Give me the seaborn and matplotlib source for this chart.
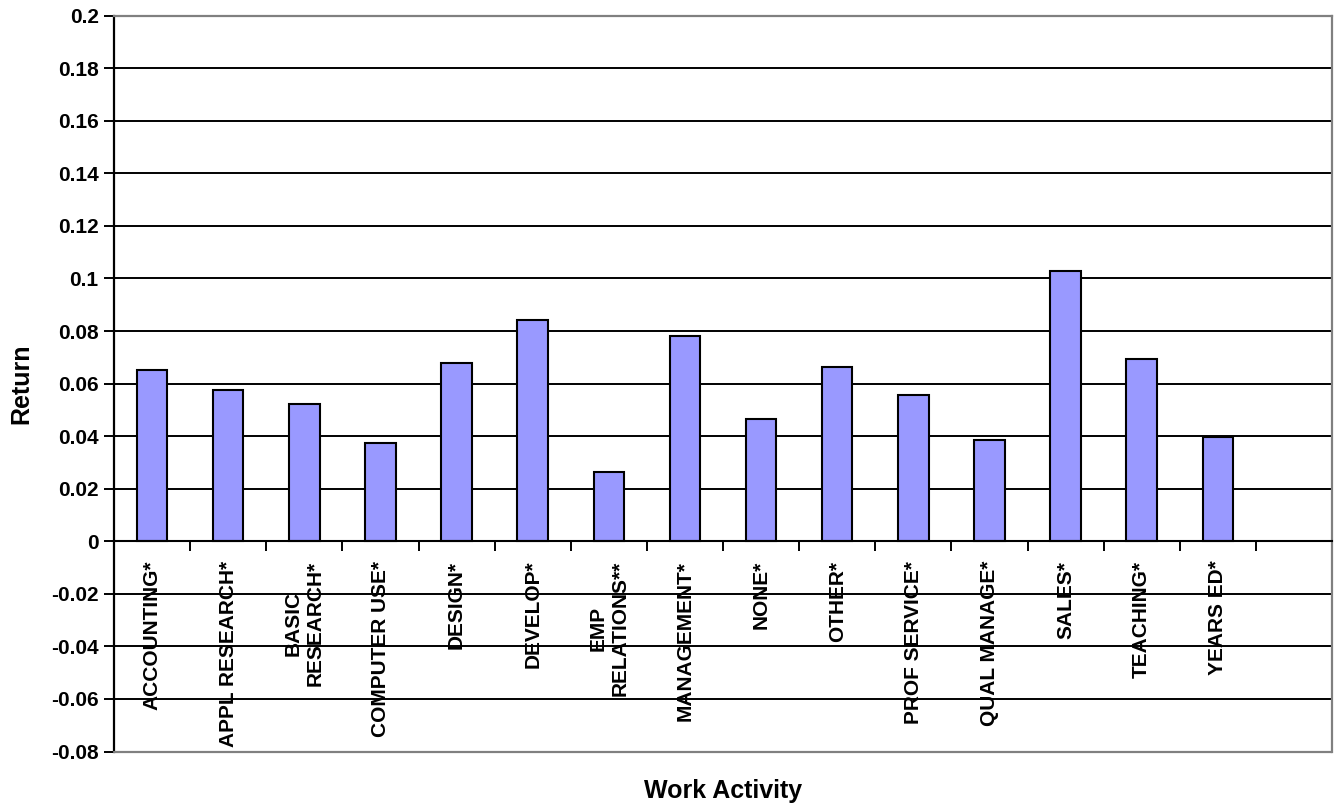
import matplotlib
matplotlib.use("Agg")
import matplotlib.pyplot as plt
import numpy as np
import pandas as pd
import seaborn as sns

# Estimated returns by work activity
activities = ["ACCOUNTING*", "APPL RESEARCH*", "BASIC\nRESEARCH*", "COMPUTER USE*",
              "DESIGN*", "DEVELOP*", "EMP\nRELATIONS**", "MANAGEMENT*", "NONE*",
              "OTHER*", "PROF SERVICE*", "QUAL MANAGE*", "SALES*", "TEACHING*",
              "YEARS ED*"]
returns = [0.065, 0.0574, 0.0522, 0.0375, 0.0679, 0.0842, 0.0262, 0.0782, 0.0465,
           0.0664, 0.0558, 0.0385, 0.1029, 0.0692, 0.0396]
y_ticks = [-0.08, -0.06, -0.04, -0.02, 0, 0.02, 0.04, 0.06, 0.08, 0.10, 0.12,
           0.14, 0.16, 0.18, 0.20]
y_tick_labels = ["-0.08", "-0.06", "-0.04", "-0.02", "0", "0.02", "0.04", "0.06",
                 "0.08", "0.1", "0.12", "0.14", "0.16", "0.18", "0.2"]
n_slots = 16  # one empty slot after the last category

sns.set_theme(style="white")
plt.rcParams["font.family"] = ["Liberation Sans", "DejaVu Sans"]
plt.rcParams["font.weight"] = "bold"
for key in ("text.color", "axes.labelcolor", "xtick.color", "ytick.color",
            "xtick.labelcolor", "ytick.labelcolor"):
    plt.rcParams[key] = "black"

df = pd.DataFrame({"activity": activities, "ret": returns})

fig = plt.figure(figsize=(13.38, 8.10), dpi=100)
ax = fig.add_axes([114 / 1338, 1 - 751.5 / 810, (1332 - 114) / 1338, (751.5 - 15.7) / 810])

ax.set_ylim(y_ticks[0], y_ticks[-1])
ax.set_yticks(y_ticks)
ax.yaxis.grid(True, color="black", linewidth=1.4)
ax.set_axisbelow(True)

sns.barplot(data=df, x="activity", y="ret", order=activities, color="#9999FF",
            saturation=1, width=0.4, edgecolor="black", linewidth=1.5, ax=ax,
            zorder=3)
ax.set_xlim(-0.5, n_slots - 0.5)

# y axis
ax.set_yticklabels(y_tick_labels, fontsize=15, fontweight="bold", color="black")
ax.tick_params(axis="y", direction="out", length=7, width=1.4, color="black",
               left=True, pad=4)

# category axis drawn through zero
ax.spines["bottom"].set_position(("data", 0))
ax.spines["bottom"].set_color("black")
ax.spines["bottom"].set_linewidth(1.5)
ax.spines["bottom"].set_zorder(4)
ax.spines["left"].set_color("black")
ax.spines["left"].set_linewidth(1.6)
for side in ("top", "right"):
    ax.spines[side].set_color("#808080")
    ax.spines[side].set_linewidth(1.6)
ax.axhline(y_ticks[0], color="#808080", linewidth=1.6, clip_on=False, zorder=4)

ax.set_xticks(np.arange(len(activities)))
ax.set_xticklabels(activities, rotation=90, fontsize=15, fontweight="bold",
                   va="top", ha="center", color="black")
for lab in ax.get_xticklabels():
    lab.set_multialignment("center")
ax.set_xticks(np.arange(n_slots + 1) - 0.5, minor=True)
ax.tick_params(axis="x", which="major", length=0, pad=14)
ax.tick_params(axis="x", which="minor", direction="out", length=7, width=1.4,
               color="black", bottom=True)

ax.set_xlabel("Work Activity", fontsize=18, fontweight="bold", color="black")
ax.xaxis.set_label_coords(0.5, -0.037)
ax.set_ylabel("Return", fontsize=18, fontweight="bold", color="black")
ax.yaxis.set_label_coords(-0.066, 0.5)

fig.savefig("out.png", dpi=100, facecolor="white")
